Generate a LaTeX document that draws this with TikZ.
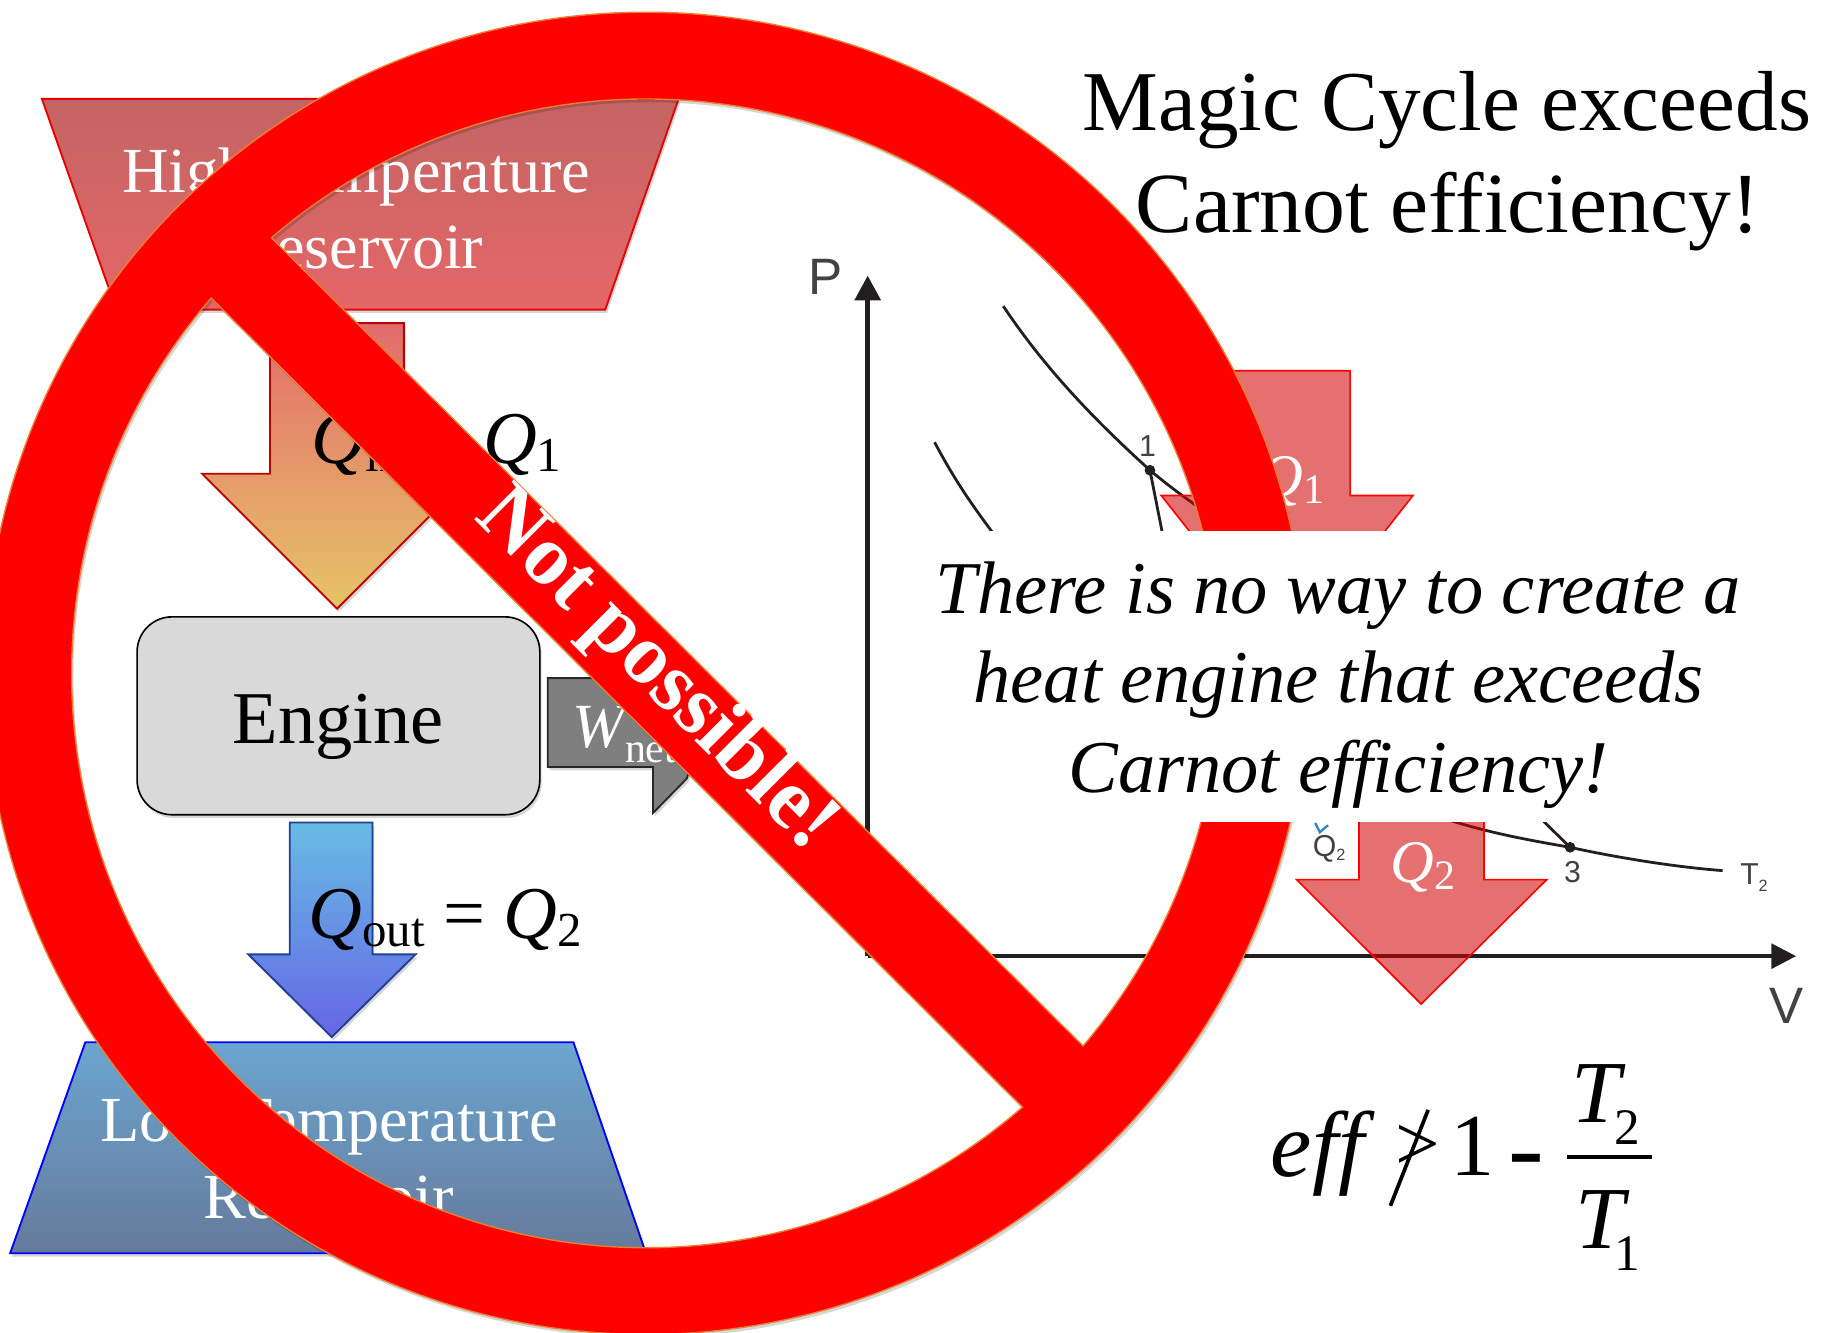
\documentclass[tikz,border=0pt]{standalone}
\usepackage{fontspec}
\usepackage{graphicx}
\setmainfont{Liberation Serif}
\newfontfamily\plotfont{Liberation Sans}
\usetikzlibrary{calc}
\newcommand\SZ[1]{\fontsize{#1}{#1}\selectfont}
\newcommand\banpath{(c) circle (284pt)
  ($(c)+(130.7:246.75pt)$) -- ($(c)+(-40.45:246.75pt)$) arc[start angle=-40.45,end angle=130.7,radius=246.75pt] -- cycle
  ($(c)+(139.2:246.75pt)$) -- ($(c)+(-49.05:246.75pt)$) arc[start angle=310.95,end angle=139.2,radius=246.75pt] -- cycle}
\definecolor{banred}{HTML}{FF0000}
\definecolor{banline}{HTML}{ED7D31}
\definecolor{plotblack}{HTML}{231F20}
\tikzset{
  softdrop/.style={preaction={fill=black,fill opacity=.16,draw=none,transform canvas={shift={(.8pt,-1.4pt)}}}},
  label/.style={inner sep=0pt,outer sep=0pt,anchor=base},
  labelw/.style={inner sep=0pt,outer sep=0pt,anchor=base west},
  plotlabel/.style={inner sep=0pt,text=plotblack!85!white,font=\plotfont},
  plotline/.style={draw=plotblack,line width=1.2pt},
  axisline/.style={draw=plotblack,line width=2pt},
  axishead/.style={fill=plotblack,draw=none},
  paleflow/.style={fill={rgb,255:red,208;green,0;blue,0},fill opacity=.56,draw=red,line width=.7pt},
  dotmark/.style={circle,fill=plotblack,inner sep=0pt,minimum size=4.6pt},
  whitetext/.style={text=white},
}
\begin{document}
\begin{tikzpicture}[x=.5pt,y=-.5pt]
\useasboundingbox (0,0) rectangle (1568,1145);
% ---------- left: reservoirs, engine
\path[softdrop,draw={rgb,255:red,230;green,0;blue,0},line width=.8pt,top color={rgb,255:red,196;green,100;blue,100},bottom color={rgb,255:red,229;green,103;blue,103}]
  (36,85) -- (583,85) -- (520,266) -- (100,266) -- cycle;
\node[label,whitetext,font=\SZ{27.6}] (hot1) at (306,165) {High Temperature};
\node[label,whitetext,font=\SZ{27.6}] (hot2) at (308,231) {Reservoir};
\path[softdrop,draw={rgb,255:red,192;green,0;blue,0},line width=.8pt,top color={rgb,255:red,227;green,107;blue,107},bottom color={rgb,255:red,230;green,196;blue,104}]
  (232,277.6) -- (347,277.6) -- (347,407) -- (405.5,407) -- (289.6,523) -- (173.6,407) -- (232,407) -- cycle;
\node[labelw] (qin) at (268,398) {\SZ{32}\itshape Q\upshape\raisebox{-3.5pt}{\SZ{21}in}\hspace{8pt}={}\hspace{8pt}\itshape Q\upshape\raisebox{-3.5pt}{\SZ{21}1}};
\node[softdrop,draw=black,fill={rgb,255:red,217;green,217;blue,217},line width=.7pt,rounded corners=15pt,minimum width=173pt,minimum height=85pt,inner sep=0pt] (engine) at (290.8,615) {};
\node[label,font=\SZ{32}] (enginetext) at (290.5,639) {Engine};
% W arrow
\path[softdrop,fill={rgb,255:red,127;green,127;blue,127},draw={rgb,255:red,40;green,40;blue,40},line width=.8pt]
  (470.6,582.6) -- (560,582.6) -- (600,640) -- (590,669) -- (561,698.6) -- (561,659) -- (470.6,659) -- cycle;
\node[labelw,whitetext] (wnet) at (492,642) {\SZ{27}\itshape W\upshape\raisebox{-6.5pt}{\SZ{18}net}};
% Q out
\path[softdrop,draw={rgb,255:red,31;green,63;blue,143},line width=.8pt,top color={rgb,255:red,103;green,188;blue,227},bottom color={rgb,255:red,102;green,102;blue,230}]
  (249,706.7) -- (320,706.7) -- (320,820) -- (357,820) -- (285,891) -- (213.4,820) -- (249,820) -- cycle;
\node[labelw] (qout) at (265,806) {\SZ{32}\itshape Q\upshape\raisebox{-3.5pt}{\SZ{21}out}\hspace{8pt}={}\hspace{8pt}\itshape Q\upshape\raisebox{-3.5pt}{\SZ{21}2}};
\path[softdrop,draw={rgb,255:red,0;green,0;blue,255},line width=.8pt,top color={rgb,255:red,107;green,165;blue,207},bottom color={rgb,255:red,102;green,122;blue,155}]
  (73.3,895.5) -- (492.7,895.5) -- (555,1076.8) -- (8.7,1076.8) -- cycle;
\node[label,whitetext,font=\SZ{27.6}] (cold1) at (282.5,980.6) {Low Temperature};
\node[label,whitetext,font=\SZ{27.6}] (cold2) at (282.5,1046.5) {Reservoir};
% ---------- plot
\coordinate (origin) at (745.5,821.5);
\coordinate (ptop) at (745.5,258);
\coordinate (vend) at (1523,821.5);
\coordinate (pone) at (988,404);
\coordinate (pthree) at (1349,728);
\draw[axisline] (origin) -- (ptop);
\draw[axisline] (origin) -- (vend);
\fill[axishead] (745.5,237) -- (757,258) -- (734,258) -- cycle;
\fill[axishead] (1543,821.5) -- (1522,810.5) -- (1522,832.5) -- cycle;
\node[plotlabel,font=\plotfont\SZ{22}] (plabel) at (709,238) {P};
\node[plotlabel,font=\plotfont\SZ{22}] (vlabel) at (1535,864) {V};
\draw[plotline] (862,263) .. controls (900,320) and (945,365) .. (pone) .. controls (1025,435) and (1065,460) .. (1120,490);
\draw[plotline] (803,380) .. controls (820,412) and (835,435) .. (870,480);
\draw[plotline] (pone) -- (1005,490);
\draw[plotline] (1240,703) .. controls (1280,716) and (1315,722) .. (pthree) .. controls (1390,737) and (1440,745) .. (1480,748);
\draw[plotline] (1300,680) -- (pthree);
\node[dotmark] (mone) at (pone) {};
\node[dotmark] (mthree) at (pthree) {};
\node[plotlabel,font=\plotfont\SZ{13}] (lone) at (986,383) {1};
\node[plotlabel,font=\plotfont\SZ{13}] (lthree) at (1351,749) {3};
\node[plotlabel,font=\plotfont\SZ{13}] (ltwo) at (1147,467) {2};
\node[plotlabel,font=\plotfont\SZ{13}] (tqtwo) at (1142,729) {Q\raisebox{-2pt}{\SZ{7}2}};
\node[plotlabel,font=\plotfont\SZ{13}] (ttwo) at (1507,754) {T\raisebox{-3pt}{\SZ{7}2}};
\draw[draw={rgb,255:red,46;green,134;blue,193},line width=1pt] (1130,707) -- (1134,715) -- (1141,709);
% ---------- right flows
\path[paleflow] (1052,318.5) -- (1160,318.5) -- (1160,425.7) -- (1214,425.7) -- (1106,563) -- (997.7,425.7) -- (1052,425.7) -- cycle;
\node[labelw,whitetext] (qone) at (1082,427) {\SZ{26}\itshape Q\upshape\raisebox{-3pt}{\SZ{18}1}};
\path[paleflow] (1167.6,650) -- (1275,650) -- (1275,755.7) -- (1329,755.7) -- (1221,862.6) -- (1114,755.7) -- (1167.6,755.7) -- cycle;
\node[labelw,whitetext] (qtwo) at (1195,758) {\SZ{26}\itshape Q\upshape\raisebox{-3pt}{\SZ{18}2}};
% ---------- title and formula
\node[label,font=\SZ{36.6}] (title1) at (1243,112) {Magic Cycle exceeds};
\node[label,font=\SZ{36.8}] (title2) at (1244,200) {Carnot efficiency!};
\node[labelw,font=\SZ{40}\itshape] (eff) at (1092,1011) {eff};
\node[labelw,font=\SZ{34}] (gtsign) at (1199,1006) {>};
\draw[line width=1.6pt] (1227,953.6) -- (1194.6,1036);
\node[labelw,font=\SZ{38}] (one) at (1246,1010) {1};
\node[labelw,font=\SZ{46}] (minus) at (1296,1017) {-};
\node[fill=black,inner sep=0pt,minimum width=36.4pt,minimum height=1.5pt] (fracbar) at (1383,994) {};
\node[labelw] (ttop) at (1350,964) {\SZ{38}\itshape T};
\node[labelw,font=\SZ{22}] (ttopsub) at (1387,983) {2};
\node[labelw] (tbot) at (1354,1073) {\SZ{38}\itshape T};
\node[labelw,font=\SZ{22}] (tbotsub) at (1387,1092) {1};
% ---------- ban sign
\coordinate (c) at (555,578.5);
\path[fill=black,fill opacity=.16,even odd rule,transform canvas={shift={(.8pt,-1.4pt)}}] \banpath;
\path[fill=banred,draw=banline,line width=.6pt,even odd rule] \banpath;
\node[inner sep=0pt,rotate=-45,whitetext,font=\bfseries\SZ{36.8}] (notpossible) at (563,577) {Not possible!};
% ---------- statement
\node[fill=white,inner sep=0pt,minimum width=365pt,minimum height=125pt] (statement) at (1150,581) {};
\node[inner sep=0pt,align=center,font=\itshape\fontsize{32}{38.5}\selectfont] (statementtext) at (1150,588.5) {There is no way to create a\\heat engine that exceeds\\Carnot efficiency!};
\end{tikzpicture}
\end{document}
